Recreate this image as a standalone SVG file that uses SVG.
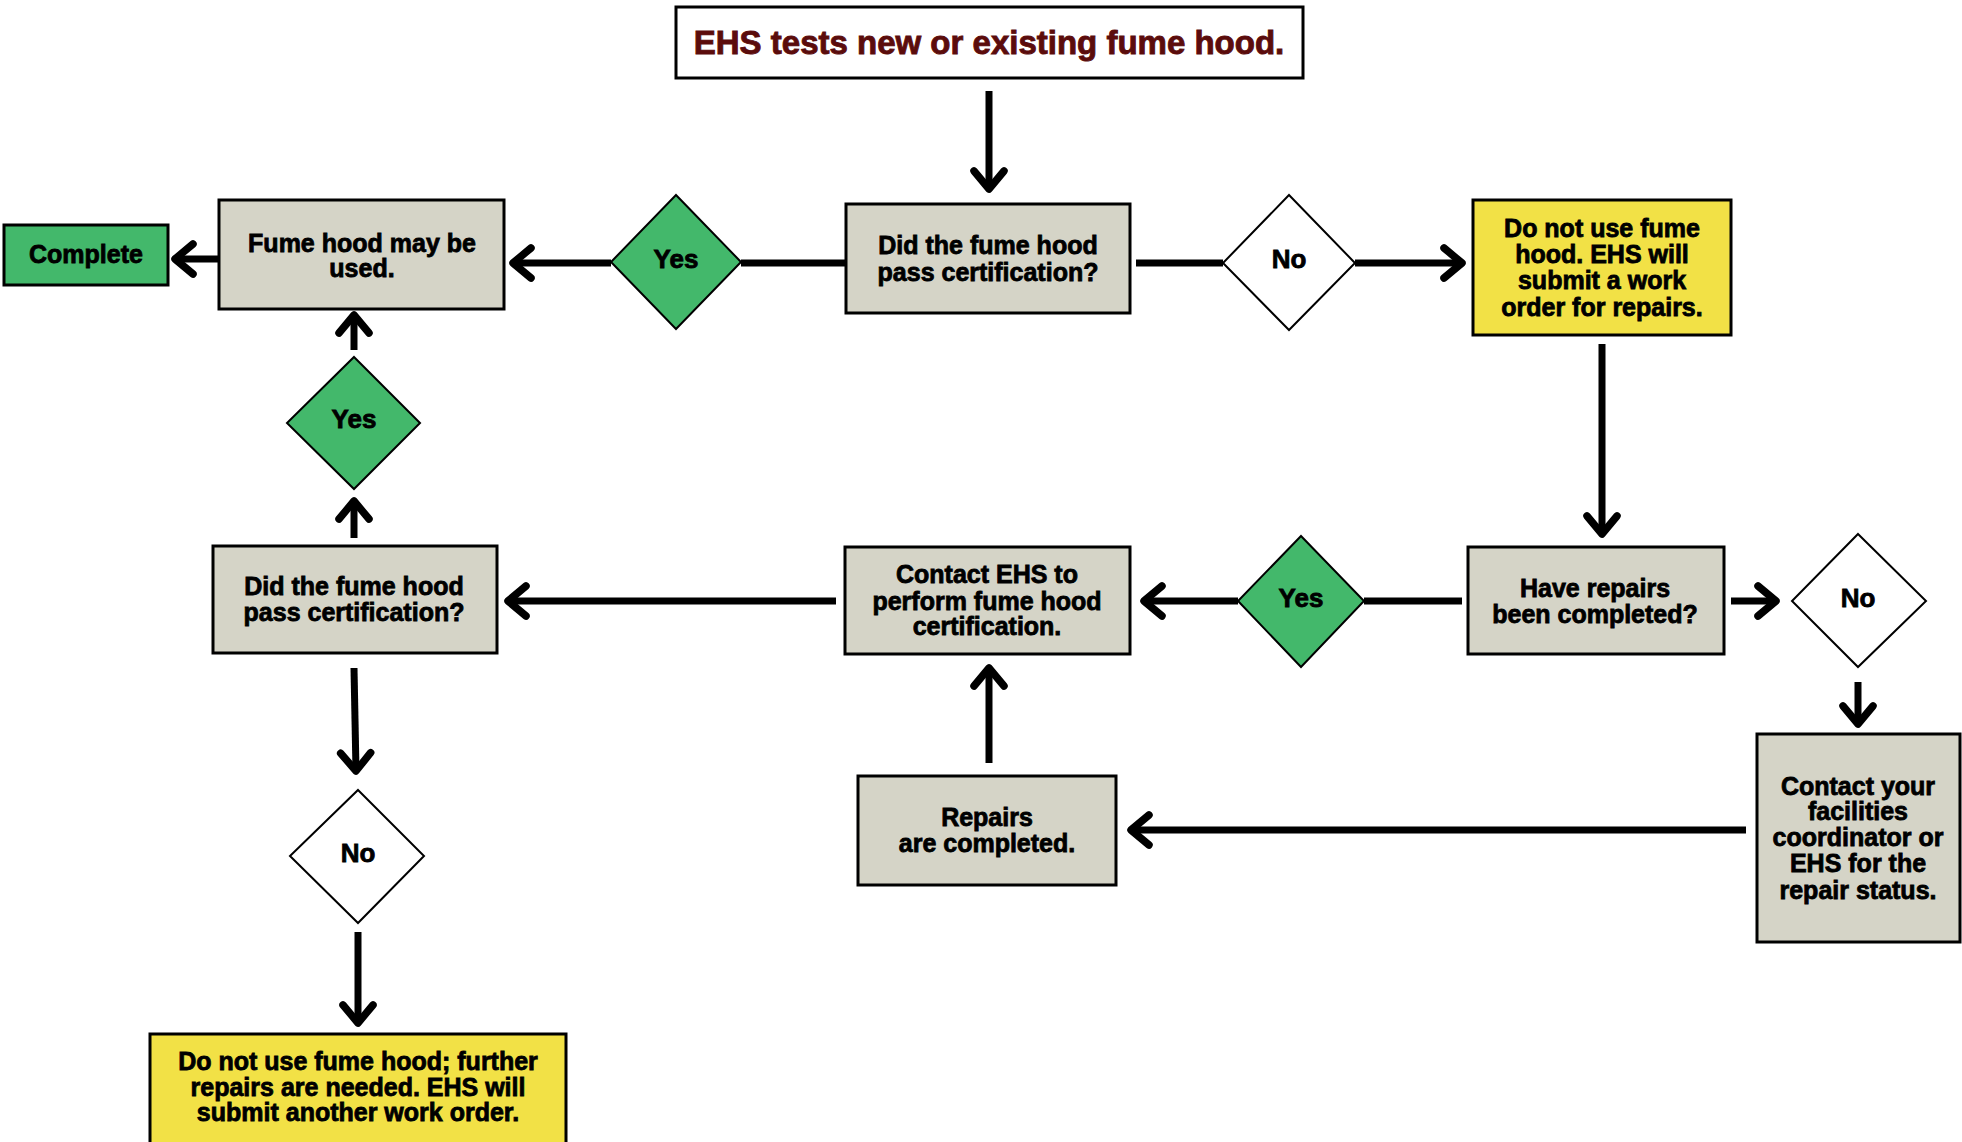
<svg xmlns="http://www.w3.org/2000/svg" width="1962" height="1142" viewBox="0 0 1962 1142">
<style>
.box{fill:#d5d4c7;stroke:#000;stroke-width:3}
.yel{fill:#f2e146;stroke:#000;stroke-width:3}
.grn{fill:#43b86b;stroke:#000;stroke-width:3}
.dg{fill:#43b86b;stroke:#000;stroke-width:2}
.dw{fill:#fff;stroke:#000;stroke-width:2}
.t{font-family:"Liberation Sans",Arial,sans-serif;font-weight:bold;font-size:25px;fill:#000;stroke:#000;stroke-width:0.8;text-anchor:middle}
.d{font-size:26px}
.title{font-family:"Liberation Sans",Arial,sans-serif;font-weight:bold;font-size:33px;fill:#5b0c0c;stroke:#5b0c0c;stroke-width:0.9;text-anchor:middle}
.c{fill:none;stroke:#000;stroke-width:7}
.a{fill:none;stroke:#000;stroke-width:7;marker-end:url(#arr)}
</style>
<defs>
<marker id="arr" markerUnits="userSpaceOnUse" viewBox="-30 -22 36 44" markerWidth="36" markerHeight="44" refX="0" refY="0" orient="auto" overflow="visible">
<path d="M-18,-15 L0,0 L-18,15" fill="none" stroke="#000" stroke-width="7.5" stroke-linecap="round" stroke-linejoin="round"/>
</marker>
</defs>
<rect width="1962" height="1142" fill="#fff"/>

<g id="connectors">
<line class="a" x1="989" y1="91" x2="989" y2="189"/>
<line class="c" x1="846" y1="263" x2="741" y2="263"/>
<line class="a" x1="611" y1="263" x2="513" y2="263"/>
<line class="a" x1="219" y1="259" x2="175" y2="259"/>
<line class="c" x1="1136" y1="263" x2="1223" y2="263"/>
<line class="a" x1="1355" y1="263" x2="1462" y2="263"/>
<line class="a" x1="1602" y1="344" x2="1602" y2="534"/>
<line class="c" x1="1462" y1="601" x2="1364" y2="601"/>
<line class="a" x1="1238" y1="601" x2="1144" y2="601"/>
<line class="a" x1="836" y1="601" x2="508" y2="601"/>
<line class="a" x1="354" y1="538" x2="354" y2="501"/>
<line class="a" x1="354" y1="350" x2="354" y2="315"/>
<line class="a" x1="354" y1="668" x2="356" y2="771"/>
<line class="a" x1="358" y1="932" x2="358" y2="1023"/>
<line class="a" x1="1731" y1="601" x2="1776" y2="601"/>
<line class="a" x1="1858" y1="682" x2="1858" y2="724"/>
<line class="a" x1="1746" y1="830" x2="1131" y2="830"/>
<line class="a" x1="989" y1="763" x2="989" y2="668"/>
</g>

<g id="start">
<rect x="676" y="7" width="627" height="71" fill="#fff" stroke="#000" stroke-width="3"/>
<text class="title" x="989" y="54">EHS tests new or existing fume hood.</text>
</g>

<g id="q1">
<rect class="box" x="846" y="204" width="284" height="109"/>
<text class="t" x="988" y="254">Did the fume hood</text>
<text class="t" x="988" y="281">pass certification?</text>
</g>

<g id="yes1">
<polygon class="dg" points="676,195 741,262 676,329 611,262"/>
<text class="t d" x="676" y="268">Yes</text>
</g>

<g id="used">
<rect class="box" x="219" y="200" width="285" height="109"/>
<text class="t" x="362" y="252">Fume hood may be</text>
<text class="t" x="362" y="277">used.</text>
</g>

<g id="complete">
<rect class="grn" x="4" y="225" width="164" height="60"/>
<text class="t" x="86" y="263">Complete</text>
</g>

<g id="no1">
<polygon class="dw" points="1289,195 1355,263 1289,330 1223,263"/>
<text class="t d" x="1289" y="268">No</text>
</g>

<g id="donot1">
<rect class="yel" x="1473" y="200" width="258" height="135"/>
<text class="t" x="1602" y="237">Do not use fume</text>
<text class="t" x="1602" y="263">hood. EHS will</text>
<text class="t" x="1602" y="289">submit a work</text>
<text class="t" x="1602" y="316">order for repairs.</text>
</g>

<g id="repairsq">
<rect class="box" x="1468" y="547" width="256" height="107"/>
<text class="t" x="1595" y="597">Have repairs</text>
<text class="t" x="1595" y="623">been completed?</text>
</g>

<g id="yes2">
<polygon class="dg" points="1301,536 1364,601 1301,667 1238,601"/>
<text class="t d" x="1301" y="607">Yes</text>
</g>

<g id="no2">
<polygon class="dw" points="1858,534 1926,601 1858,667 1792,601"/>
<text class="t d" x="1858" y="607">No</text>
</g>

<g id="contactehs">
<rect class="box" x="845" y="547" width="285" height="107"/>
<text class="t" x="987" y="583">Contact EHS to</text>
<text class="t" x="987" y="610">perform fume hood</text>
<text class="t" x="987" y="635">certification.</text>
</g>

<g id="q2">
<rect class="box" x="213" y="546" width="284" height="107"/>
<text class="t" x="354" y="595">Did the fume hood</text>
<text class="t" x="354" y="621">pass certification?</text>
</g>

<g id="yes3">
<polygon class="dg" points="354,357 420,423 354,489 287,423"/>
<text class="t d" x="354" y="428">Yes</text>
</g>

<g id="no3">
<polygon class="dw" points="358,790 424,856 358,923 290,856"/>
<text class="t d" x="358" y="862">No</text>
</g>

<g id="donot2">
<rect class="yel" x="150" y="1034" width="416" height="120"/>
<text class="t" x="358" y="1070">Do not use fume hood; further</text>
<text class="t" x="358" y="1096">repairs are needed. EHS will</text>
<text class="t" x="358" y="1121">submit another work order.</text>
</g>

<g id="contactfac">
<rect class="box" x="1757" y="734" width="203" height="208"/>
<text class="t" x="1858" y="795">Contact your</text>
<text class="t" x="1858" y="820">facilities</text>
<text class="t" x="1858" y="846">coordinator or</text>
<text class="t" x="1858" y="872">EHS for the</text>
<text class="t" x="1858" y="899">repair status.</text>
</g>

<g id="repaired">
<rect class="box" x="858" y="776" width="258" height="109"/>
<text class="t" x="987" y="826">Repairs</text>
<text class="t" x="987" y="852">are completed.</text>
</g>
</svg>
